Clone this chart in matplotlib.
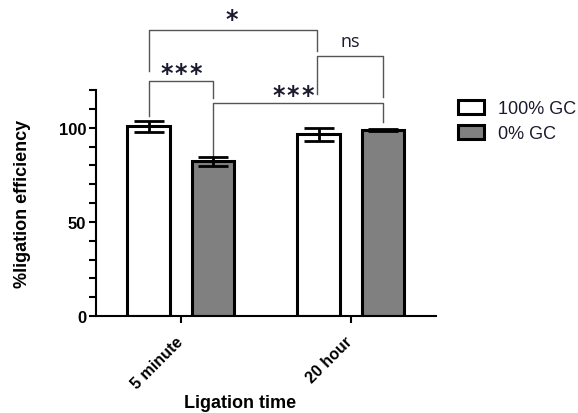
import numpy as np
import matplotlib
matplotlib.use('Agg')
import matplotlib.pyplot as plt
import matplotlib.transforms as mtrans
from matplotlib.patches import Patch

plt.rcParams['font.family'] = ['Liberation Sans', 'DejaVu Sans']

# data
groups = ['5 minute', '20 hour']
series = ['100% GC', '0% GC']
gc100 = [100.7, 96.6]
gc100_err = [2.8, 3.5]
gc0 = [82.1, 98.9]
gc0_err = [2.5, 0.6]
colors = ['white', '#808080']

# significance brackets: (x1, x2, y bar, y left foot, y right foot, label, text x, text y)
brackets = [
    (-0.19, 0.19, 125, 106, 116, '***', 0.0, 131.4),
    (0.19, 1.19, 113, 84.5, 103, '***', 0.66, 119.7),
    (0.80, 1.19, 138, 118, 116.5, 'ns', 0.995, 146),
    (-0.19, 0.80, 152, 130, 141, '*', 0.30, 159.6),
]

fig = plt.figure(figsize=(5.78, 4.14), dpi=100)
ax = fig.add_axes([0.166, 0.234, 0.588, 0.546])

x = np.arange(len(groups))
off = 0.19
w = 0.25
ax.bar(x - off, gc100, w, color=colors[0], edgecolor='black', linewidth=2.2, zorder=2)
ax.bar(x + off, gc0, w, color=colors[1], edgecolor='black', linewidth=2.2, zorder=2)
ax.errorbar(x - off, gc100, yerr=gc100_err, fmt='none', ecolor='black',
            elinewidth=2, capsize=11, capthick=2, zorder=3)
ax.errorbar(x + off, gc0, yerr=gc0_err, fmt='none', ecolor='black',
            elinewidth=2, capsize=11, capthick=2, zorder=3)

for x1, x2, yb, yl, yr, lab, tx, ty in brackets:
    ax.plot([x1, x1, x2, x2], [yl, yb, yb, yr], color='#555555', lw=1,
            clip_on=False, zorder=1)
    if '*' in lab:
        n = len(lab)
        for i in range(n):
            dx = (i - (n - 1) / 2) * 10.4  # points between star centres
            ax.annotate('*', (tx, ty - 5.8), xytext=(dx, 0),
                        textcoords='offset points', ha='center', va='baseline',
                        fontsize=17, family='DejaVu Sans', fontweight='bold',
                        color='#1a1a2e', annotation_clip=False)
    else:
        ax.text(tx, ty, lab, ha='center', va='center', fontsize=13,
                family='Open Sans', color='#1a1a2e', clip_on=False)

ax.set_xlim(-0.5, 1.5)
ax.set_ylim(0, 120)
ax.set_yticks([0, 50, 100])
ax.set_yticks(np.arange(0, 121, 10), minor=True)
ax.tick_params(axis='y', which='both', length=5, width=1.5)
ax.tick_params(axis='y', labelsize=12, pad=2)
for t in ax.get_yticklabels():
    t.set_fontweight('bold')
ax.set_xticks(x)
ax.set_xticklabels(groups, rotation=45, ha='right', rotation_mode='anchor',
                   fontweight='bold', fontsize=11.5)
ax.tick_params(axis='x', length=5, width=1.5, pad=6)
shift = mtrans.ScaledTranslation(-6 / 100, -2 / 100, fig.dpi_scale_trans)
for t in ax.get_xticklabels():
    t.set_transform(t.get_transform() + shift)

for s in ['top', 'right']:
    ax.spines[s].set_visible(False)
ax.spines['left'].set_linewidth(1.5)
ax.spines['bottom'].set_linewidth(1.5)

ax.set_ylabel('%ligation efficiency', fontweight='bold', fontsize=13, labelpad=20)
fig.text(0.415, 0.004, 'Ligation time', ha='center', va='bottom',
         fontweight='bold', fontsize=13)

handles = [Patch(facecolor=c, edgecolor='black', linewidth=2.2) for c in colors]
fig.legend(handles, series, loc='upper left', bbox_to_anchor=(0.764, 0.795),
           frameon=False, fontsize=13, handlelength=1.44, handleheight=0.78,
           labelspacing=0.45, handletextpad=0.8, labelcolor='#1a1a2e')

fig.savefig('out.png', dpi=100)
